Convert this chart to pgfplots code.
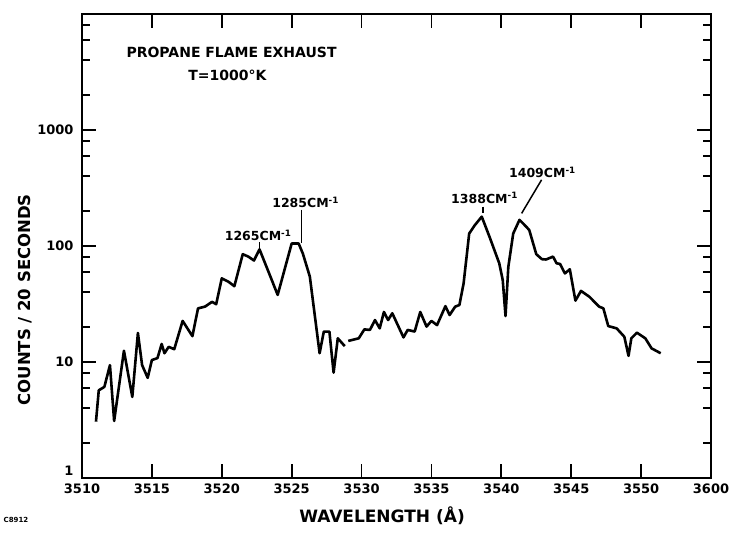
\documentclass[border=0pt]{standalone}
\usepackage{pgfplots}
\pgfplotsset{compat=1.18}
\usepackage{fontspec}
\setmainfont{DejaVu Sans}

\begin{document}
\begin{tikzpicture}
\begin{axis}[
  scale only axis, width=629pt, height=464pt,
  at={(0,0)}, anchor=south west,
  ymode=log, xmin=3510, xmax=3555, ymin=1, ymax=10000,
  axis line style={line width=2pt},
  xtick={3510,3515,...,3555},
  xticklabels={3510,3515,3520,3525,3530,3535,3540,3545,3550,3600},
  ytick={1,10,100,1000},
  yticklabels={\smash{\raisebox{2pt}{1}},10,100,1000},
  minor ytick={2,4,6,8,20,40,60,80,200,400,600,800,2000,4000,6000,8000},
  tick align=inside, major tick length=14pt, minor tick length=8pt,
  every tick/.style={line width=1.7pt, black},
  tick label style={font=\bfseries\fontsize{13}{13}\selectfont},
  yticklabel style={xshift=-5pt},
  xticklabel style={yshift=-2pt},
  clip=false,
]
\addplot[black, line width=2.6pt, line join=round] coordinates {
(3511.0,3.06) (3511.2,5.7) (3511.6,6.1) (3512.0,9.4) (3512.3,3.1)
(3513.0,12.5) (3513.6,5.0) (3514.0,17.8) (3514.3,9.4) (3514.7,7.3)
(3515.0,10.4) (3515.4,10.8) (3515.7,14.3) (3515.9,11.9) (3516.2,13.5)
(3516.6,12.9) (3517.2,22.6) (3517.9,16.7) (3518.3,29) (3518.8,30)
(3519.3,33) (3519.6,31.5) (3520.0,52.6) (3520.5,49) (3520.9,45)
(3521.5,85) (3521.9,81) (3522.3,75) (3522.7,93.6) (3524.0,37.9)
(3525.0,105) (3525.5,105) (3525.8,86) (3526.3,54.5) (3527.0,11.9)
(3527.3,18.3) (3527.7,18.3) (3528.0,8.1) (3528.3,16) (3528.8,13.7)
};
\addplot[black, line width=2.6pt, line join=round] coordinates {
(3529.05,15.2) (3529.8,16) (3530.2,19.1) (3530.6,18.9) (3530.96,23)
(3531.3,19.5) (3531.6,27) (3531.9,23) (3532.2,26.3) (3533.0,16.3)
(3533.3,18.9) (3533.8,18.3) (3534.2,27) (3534.65,20.2) (3535.0,22.6)
(3535.4,20.8) (3536.0,30.3) (3536.3,25.4) (3536.7,30) (3537.0,31)
(3537.3,47.5) (3537.7,128) (3538.1,151) (3538.6,179) (3539.2,116)
(3539.85,71) (3540.1,50.9) (3540.3,24.9) (3540.5,66) (3540.85,128)
(3541.3,168) (3541.8,146) (3542.0,137) (3542.5,85) (3542.9,77)
(3543.2,76.5) (3543.7,81) (3543.95,71) (3544.2,70) (3544.55,58)
(3544.9,63) (3545.3,33.8) (3545.7,41) (3546.3,36.5) (3547.0,30)
(3547.3,29) (3547.65,20.4) (3548.25,19.5) (3548.8,16.5) (3549.1,11.3)
(3549.3,16) (3549.7,17.9) (3550.3,16) (3550.75,13.1) (3551.4,11.9)
};
% annotations
\node[font=\bfseries\fontsize{14}{14}\selectfont] at (axis cs:3520.7,4700) {PROPANE FLAME EXHAUST};
\node[font=\bfseries\fontsize{14}{14}\selectfont] at (axis cs:3520.4,2980) {T=1000°K};
\node[font=\bfseries\fontsize{12.5}{12.5}\selectfont] at (axis cs:3522.6,124) {1265CM\textsuperscript{-1}};
\draw[line width=1.5pt] (axis cs:3522.7,108) -- (axis cs:3522.7,94);
\node[font=\bfseries\fontsize{12.5}{12.5}\selectfont] at (axis cs:3526.0,237) {1285CM\textsuperscript{-1}};
\draw[line width=1.5pt] (axis cs:3525.7,206) -- (axis cs:3525.7,106);
\node[font=\bfseries\fontsize{12.5}{12.5}\selectfont] at (axis cs:3538.8,260) {1388CM\textsuperscript{-1}};
\draw[line width=1.5pt] (axis cs:3538.7,218) -- (axis cs:3538.7,193);
\node[font=\bfseries\fontsize{12.5}{12.5}\selectfont] at (axis cs:3542.94,430) {1409CM\textsuperscript{-1}};
\draw[line width=1.5pt] (axis cs:3542.88,372) -- (axis cs:3541.45,191);
% axis labels
\node[rotate=90, font=\bfseries\fontsize{16.5}{16.5}\selectfont] at ([xshift=-57pt]rel axis cs:0,0.384) {COUNTS / 20 SECONDS};
\node[font=\bfseries\fontsize{17}{17}\selectfont] at ([yshift=-38pt]rel axis cs:0.477,0) {WAVELENGTH (Å)};
\node[font=\bfseries\fontsize{7}{7}\selectfont] at ([xshift=-66pt,yshift=-42pt]rel axis cs:0,0) {C8912};
\end{axis}
\pgfresetboundingbox
\path[use as bounding box] (-82pt,-56pt) rectangle (647pt,478pt);
\end{tikzpicture}
\end{document}
